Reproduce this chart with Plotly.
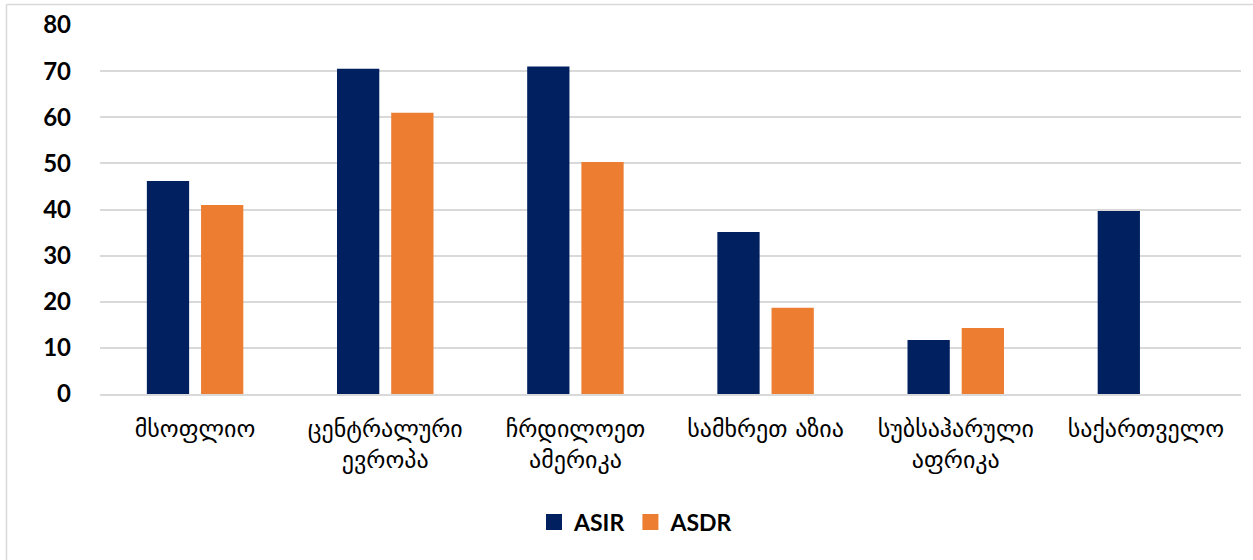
import plotly.graph_objects as go

categories = ["მსოფლიო", "ცენტრალური<br>ევროპა", "ჩრდილოეთ<br>ამერიკა",
              "სამხრეთ აზია", "სუბსაჰარული<br>აფრიკა", "საქართველო"]
asir = [46.2, 70.5, 71.0, 35.1, 11.7, 39.7]
asdr = [41.0, 61.0, 50.3, 18.7, 14.3, None]
y_ticks = [0, 10, 20, 30, 40, 50, 60, 70, 80]

NAVY = "#002060"
ORANGE = "#ED7D31"

fig = go.Figure()
fig.add_trace(go.Bar(name="ASIR", x=categories, y=asir, marker_color=NAVY,
                     marker_line_width=0, showlegend=False))
fig.add_trace(go.Bar(name="ASDR", x=categories, y=asdr, marker_color=ORANGE,
                     marker_line_width=0, showlegend=False))
# legend-only entries with larger square keys
fig.add_trace(go.Scatter(name="ASIR", x=[None], y=[None], mode="markers",
                         marker=dict(symbol="square", size=16, color=NAVY)))
fig.add_trace(go.Scatter(name="ASDR", x=[None], y=[None], mode="markers",
                         marker=dict(symbol="square", size=16, color=ORANGE)))

W, H = 1253, 560
L, R, T, B = 100, 12, 25, 166
pw, ph = W - L - R, H - T - B

def px_x(x):
    return (x - L) / pw

def px_y(y):
    return (H - B - y) / ph

fig.update_layout(
    width=W, height=H,
    paper_bgcolor="white", plot_bgcolor="white",
    margin=dict(l=L, r=R, t=T, b=B, autoexpand=False),
    barmode="group", bargap=0.43, bargroupgap=0.22,
    font=dict(family="Lato, 'DejaVu Sans', sans-serif", color="black"),
    xaxis=dict(tickfont=dict(size=24, family="'DejaVu Sans', sans-serif"),
               showline=True, linecolor="#D9D9D9", linewidth=1.5,
               ticks="", showgrid=False, ticklabelstandoff=12),
    yaxis=dict(range=[0, 80], tickvals=y_ticks, showgrid=True,
               gridcolor="#D9D9D9", gridwidth=1.5, zeroline=False,
               tickfont=dict(size=24, family="Lato, sans-serif", weight="bold"),
               ticks="", ticklabelstandoff=28, showline=False),
    legend=dict(orientation="h", x=px_x(636), xanchor="center",
                y=px_y(522), yanchor="middle",
                font=dict(size=23, family="Lato, sans-serif", weight="bold"),
                itemwidth=30, tracegroupgap=0),
    shapes=[
        dict(type="line", xref="paper", yref="paper",
             x0=px_x(6.5), x1=px_x(1260), y0=px_y(4.5), y1=px_y(4.5),
             line=dict(color="#D9D9D9", width=1.5)),
        dict(type="line", xref="paper", yref="paper",
             x0=px_x(6.5), x1=px_x(6.5), y0=px_y(4.5), y1=px_y(570),
             line=dict(color="#D9D9D9", width=1.5)),
    ],
)

fig.write_html("out.html", config={"displayModeBar": False},
               post_script="document.body.style.margin='0';")
